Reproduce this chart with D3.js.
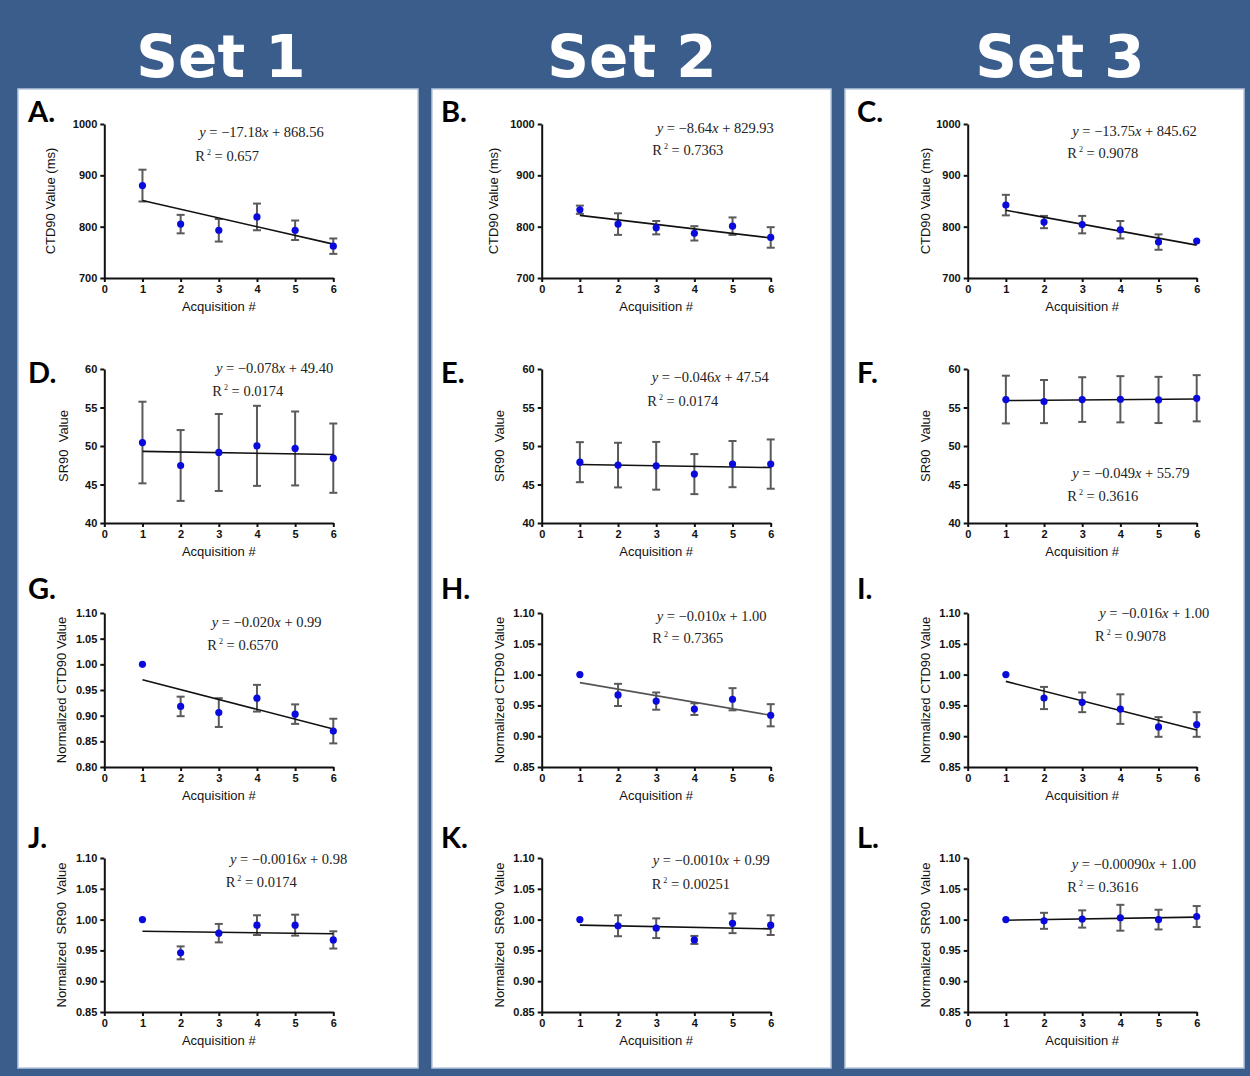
<!DOCTYPE html>
<html>
<head>
<meta charset="UTF-8" />
<script src="https://d3js.org/d3.v7.min.js"></script>
<title>CTD90 / SR90 by acquisition</title>
<style>
  body { margin: 0; background: #ffffff; }
  svg { display: block; }
  .tick text { font-family: "Liberation Sans", Arial, sans-serif; font-weight: bold; font-size: 11px; fill: #111; }
  .axis path, .axis line { stroke: #111; stroke-width: 2px; }
  .lbl { font-family: "Liberation Sans", Arial, sans-serif; font-size: 13px; fill: #111; white-space: pre; }
  .eq { font-family: "Liberation Serif", "Times New Roman", serif; font-size: 14.5px; fill: #222; }
</style>
</head>
<body>
<svg id="fig" width="1250" height="1076"></svg>
<script>
// ---- data ----
const acquisitions = [1, 2, 3, 4, 5, 6];
const setNames = ["Set 1", "Set 2", "Set 3"];
const panelLetters = [["A.", "B.", "C."], ["D.", "E.", "F."], ["G.", "H.", "I."], ["J.", "K.", "L."]];
const yTitles = ["CTD90 Value (ms)", "SR90  Value", "Normalized CTD90 Value", "Normalized  SR90  Value"];

const ctd90Mean = [[880, 805, 793, 819, 793, 762], [833, 805, 798, 787, 801, 779], [842, 809, 804, 794, 770, 772]];
const ctd90Err = [[31, 18, 22, 26, 19, 15], [8, 21, 13, 14, 17, 20], [20, 12, 17, 17, 15, 0]];
const sr90Mean = [[50.45, 47.47, 49.16, 50.02, 49.68, 48.42], [47.9, 47.52, 47.43, 46.35, 47.65, 47.65], [56.03, 55.77, 56.03, 56.07, 55.98, 56.2]];
const sr90Err = [[5.3, 4.6, 5.0, 5.2, 4.8, 4.5], [2.6, 2.9, 3.1, 2.6, 3.0, 3.2], [3.1, 2.8, 2.9, 3.0, 3.0, 3.0]];
const normCtdMean = [[1, 0.918, 0.906, 0.934, 0.903, 0.870], [1, 0.967, 0.957, 0.944, 0.960, 0.934], [1, 0.962, 0.955, 0.944, 0.915, 0.919]];
const normCtdErr = [[0, 0.019, 0.028, 0.026, 0.019, 0.024], [0, 0.018, 0.014, 0.0095, 0.018, 0.018], [0, 0.018, 0.016, 0.024, 0.016, 0.020]];
const normSrMean = [[1, 0.946, 0.978, 0.991, 0.991, 0.967], [1, 0.990, 0.986, 0.967, 0.994, 0.991], [1, 0.998, 1.001, 1.003, 1.000, 1.005]];
const normSrErr = [[0, 0.0105, 0.015, 0.016, 0.017, 0.014], [0, 0.017, 0.016, 0.0065, 0.016, 0.016], [0, 0.013, 0.014, 0.021, 0.016, 0.017]];

// fitted line, value at acquisition 1 and at acquisition 6
const ctd90Fit = [[851, 766], [822, 778], [832, 764]];
const sr90Fit = [[49.3, 48.9], [47.6, 47.2], [55.9, 56.1]];
const normCtdFit = [[0.970, 0.874], [0.987, 0.934], [0.989, 0.910]];
const normSrFit = [[0.981, 0.977], [0.991, 0.985], [0.999, 1.004]];

const eqSlope = [["−17.18", "−8.64", "−13.75"], ["−0.078", "−0.046", "−0.049"], ["−0.020", "−0.010", "−0.016"], ["−0.0016", "−0.0010", "−0.00090"]];
const eqIntercept = [["868.56", "829.93", "845.62"], ["49.40", "47.54", "55.79"], ["0.99", "1.00", "1.00"], ["0.98", "0.99", "1.00"]];
const rSquared = [["0.657", "0.7363", "0.9078"], ["0.0174", "0.0174", "0.3616"], ["0.6570", "0.7365", "0.9078"], ["0.0174", "0.00251", "0.3616"]];

const yDomains = [[[700, 1000]], [[40, 60]], [[0.80, 1.10], [0.85, 1.10], [0.85, 1.10]], [[0.85, 1.10]]];
const yTickStep = [100, 5, 0.05, 0.05];
const xTicks = [0, 1, 2, 3, 4, 5, 6];

const rows = [
  { mean: ctd90Mean, err: ctd90Err, fit: ctd90Fit },
  { mean: sr90Mean, err: sr90Err, fit: sr90Fit },
  { mean: normCtdMean, err: normCtdErr, fit: normCtdFit },
  { mean: normSrMean, err: normSrErr, fit: normSrFit }
];

// ---- layout ----
const svg = d3.select("#fig");
const W = 1250, H = 1076;
svg.append("rect").attr("width", W).attr("height", H).attr("fill", "#3a5d8b");

const colBox = [[18, 418], [432, 831], [845, 1244]];
colBox.forEach(c => {
  svg.append("rect").attr("x", c[0]).attr("y", 89).attr("width", c[1] - c[0]).attr("height", 979)
    .attr("fill", "#fff").attr("stroke", "#b8c8dc").attr("stroke-width", 1.5);
});

const headerX = [221, 632, 1060];
setNames.forEach((s, i) => {
  svg.append("text").attr("x", headerX[i]).attr("y", 77).attr("text-anchor", "middle")
    .attr("font-family", "DejaVu Sans, Verdana, sans-serif").attr("font-weight", "bold")
    .attr("font-size", 58).attr("fill", "#fff").text(s);
});

const axisX0 = [104.3, 541.7, 967.7];
const rowTop = [124, 369, 613, 858];
const plotW = 229, plotH = 154;
const letterBase = [121.5, 383, 599, 848];
const letterX = [28, 441, 857];
const yTitleOff = [[-54, -48, -42], [-41, -42, -42], [-42.5, -42, -42], [-42.5, -42.5, -42]];
// equation: [dx of y-line, dx of R line, dy line 1, dy line 2] from plot top-left
const eqPos = [
  [[95, 91, 13, 36.7], [115, 110.6, 9, 31.3], [104.6, 99.6, 11.6, 33.6]],
  [[111.7, 108, 3.7, 27], [110, 105.6, 13.3, 36.7], [104.6, 99.6, 108.7, 132]],
  [[107.4, 103, 14, 37.3], [115, 110.6, 7.7, 30], [131.6, 127.3, 5, 27.7]],
  [[125.7, 121.4, 5.7, 29], [111, 110, 7.3, 30.6], [104, 99.6, 10.6, 34]]
];

rows.forEach((row, r) => {
  for (let c = 0; c < 3; c++) {
    const ox = axisX0[c], oy = rowTop[r];
    const dom = yDomains[r][c] || yDomains[r][0];
    const x = d3.scaleLinear().domain([0, 6]).range([ox, ox + plotW]);
    const y = d3.scaleLinear().domain(dom).range([oy + plotH, oy]);
    const step = yTickStep[r];
    const yTicks = d3.range(0, Math.round((dom[1] - dom[0]) / step) + 1).map(k => dom[0] + k * step);
    const fmt = step < 1 ? d3.format(".2f") : d3.format("d");

    const g = svg.append("g");
    g.append("g").attr("class", "axis").attr("transform", `translate(0,${oy + plotH})`)
      .call(d3.axisBottom(x).tickValues(xTicks).tickSize(4).tickSizeOuter(0).tickFormat(d3.format("d")));
    g.append("g").attr("class", "axis").attr("transform", `translate(${ox},0)`)
      .call(d3.axisLeft(y).tickValues(yTicks).tickSize(4).tickSizeOuter(0).tickFormat(fmt));

    // titles
    g.append("text").attr("class", "lbl").attr("text-anchor", "middle")
      .attr("x", x(3)).attr("y", oy + plotH + 33).text("Acquisition #");
    g.append("text").attr("class", "lbl").attr("text-anchor", "middle")
      .attr("transform", `translate(${ox + yTitleOff[r][c]},${oy + plotH / 2}) rotate(-90)`)
      .attr("dy", "0.35em").text(yTitles[r]);

    g.append("text").attr("x", letterX[c]).attr("y", letterBase[r])
      .attr("font-family", "Lato, 'Open Sans', sans-serif").attr("font-weight", "bold")
      .attr("font-size", 29).attr("fill", "#000").text(panelLetters[r][c]);

    const pts = acquisitions.map((a, i) => ({ a, m: row.mean[c][i], e: row.err[c][i] }));
    const bars = g.append("g").attr("stroke", "#5a5a5a").attr("stroke-width", 2);
    pts.filter(d => d.e > 0).forEach(d => {
      bars.append("line").attr("x1", x(d.a)).attr("x2", x(d.a)).attr("y1", y(d.m - d.e)).attr("y2", y(d.m + d.e));
      bars.append("line").attr("x1", x(d.a) - 4).attr("x2", x(d.a) + 4).attr("y1", y(d.m - d.e)).attr("y2", y(d.m - d.e));
      bars.append("line").attr("x1", x(d.a) - 4).attr("x2", x(d.a) + 4).attr("y1", y(d.m + d.e)).attr("y2", y(d.m + d.e));
    });

    g.append("line").attr("x1", x(1)).attr("x2", x(6))
      .attr("y1", y(row.fit[c][0])).attr("y2", y(row.fit[c][1]))
      .attr("stroke", r === 2 && c === 1 ? "#555" : "#111").attr("stroke-width", 1.6);

    g.selectAll("circle.pt").data(pts).join("circle").attr("class", "pt")
      .attr("cx", d => x(d.a)).attr("cy", d => y(d.m)).attr("r", 3.6).attr("fill", "#0a0adc");

    // equation text
    const p = eqPos[r][c];
    const t1 = g.append("text").attr("class", "eq").attr("x", ox + p[0]).attr("y", oy + p[2]);
    t1.append("tspan").attr("font-style", "italic").text("y");
    t1.append("tspan").text(` = ${eqSlope[r][c]}`);
    t1.append("tspan").attr("font-style", "italic").text("x");
    t1.append("tspan").text(` + ${eqIntercept[r][c]}`);
    const t2 = g.append("text").attr("class", "eq").attr("x", ox + p[1]).attr("y", oy + p[3]);
    t2.append("tspan").text("R");
    t2.append("tspan").attr("font-size", 8).attr("dx", 2).attr("dy", -6).text("2");
    t2.append("tspan").attr("dy", 6).text(` = ${rSquared[r][c]}`);
  }
});
</script>
</body>
</html>
